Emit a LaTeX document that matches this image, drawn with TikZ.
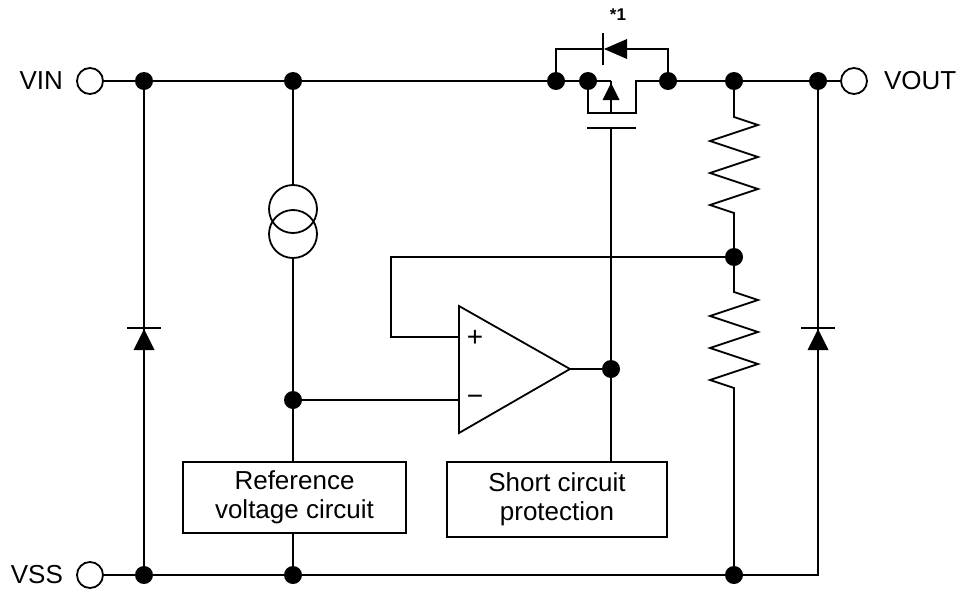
\documentclass[tikz,border=0pt]{standalone}
\usepackage{fontspec}
\setmainfont{Liberation Sans}
\usetikzlibrary{positioning, calc}

\begin{document}
\begin{tikzpicture}[
        x = 1pt, y = -1pt,
        every node/.style={font=\fontsize{26}{29}\selectfont},
        wire/.style={line width=1.8pt},
        junction/.style={circle, fill, inner sep=0pt, minimum size=18pt},
        terminal/.style={circle, draw, line width=1.8pt, fill=white, inner sep=0pt, minimum size=26pt},
        block/.style={rectangle, draw, line width=1.8pt, align=center, inner sep=0pt},
        source/.style={circle, draw, line width=1.8pt, inner sep=0pt, minimum size=48pt},
        pin/.style={inner sep=0pt},
        sign/.style={inner sep=0pt, font=\fontsize{28}{28}\selectfont}
    ]
    \useasboundingbox (0,0) rectangle (963,594);

    % terminals
    \node[terminal] (VIN) at (90,81) {};
    \node[pin, left=13pt of VIN] (VINl) {VIN};
    \node[terminal] (VSS) at (90,575) {};
    \node[pin, left=13pt of VSS] (VSSl) {VSS};
    \node[terminal] (VOUT) at (854,81) {};
    \node[pin, right=16pt of VOUT] (VOUTl) {VOUT};

    % junctions
    \node[junction] (J1) at (144,81) {};
    \node[junction] (J2) at (293,81) {};
    \node[junction] (J3) at (556,81) {};
    \node[junction] (J4) at (588,81) {};
    \node[junction] (J5) at (668,81) {};
    \node[junction] (J6) at (734,81) {};
    \node[junction] (J7) at (818,81) {};
    \node[junction] (J8) at (293,400) {};
    \node[junction] (J9) at (611,369) {};
    \node[junction] (J10) at (734,257) {};
    \node[junction] (J11) at (144,575) {};
    \node[junction] (J12) at (293,575) {};
    \node[junction] (J13) at (734,575) {};
    \coordinate (BR) at (818,575);

    % blocks
    \node[block, minimum width=223pt, minimum height=71pt] (REF) at (294.5,497.5) {Reference\\voltage circuit};
    \node[block, minimum width=220pt, minimum height=75pt] (SCP) at (557,499.5) {Short circuit\\protection};

    % supply rails
    \draw[wire] (VIN) -- (J1) -- (J2) -- (J3) -- (J4);
    \draw[wire] (J5) -- (J6) -- (J7) -- (VOUT);
    \draw[wire] (VSS) -- (J11) -- (J12) -- (J13) -- (BR) -- (J7);
    \draw[wire] (J1) -- (J11);

    % clamp diodes
    \coordinate (DL) at (144,329);
    \fill (DL) -- ++(-10.5,21) -- ++(21,0) -- cycle;
    \draw[wire] ($(DL)+(-17,-1)$) -- ($(DL)+(17,-1)$);
    \coordinate (DR) at (818,329);
    \fill (DR) -- ++(-10.5,21) -- ++(21,0) -- cycle;
    \draw[wire] ($(DR)+(-17,-1)$) -- ($(DR)+(17,-1)$);

    % current source and reference
    \node[source] (CS1) at (293,209) {};
    \node[source] (CS2) at (293,234) {};
    \draw[wire] (J2) -- (CS1);
    \draw[wire] (CS2) -- (J8) -- (J8 |- REF.north);
    \draw[wire] (J12 |- REF.south) -- (J12);

    % pass transistor
    \coordinate (MS) at (611,81);
    \coordinate (MB) at (611,113);
    \coordinate (MBL) at (588,113);
    \coordinate (MBR) at (636,113);
    \coordinate (MD) at (636,81);
    \coordinate (G) at (611,128);
    \draw[wire] (J4) -- (MS);
    \draw[wire] (J4) -- (MBL) -- (MBR) -- (MD) -- (J5);
    \draw[wire] (MB) -- (MS);
    \fill ($(MS)+(0,2)$) -- ++(-8.5,17) -- ++(17,0) -- cycle;
    \draw[wire] ($(G)+(-24,0)$) -- ($(G)+(25,0)$);

    % body diode
    \coordinate (DT) at (604,49);
    \coordinate (DTL) at (556,49);
    \coordinate (DTB) at (627,49);
    \coordinate (DTR) at (668,49);
    \fill (DT) -- ++(23,-10) -- ++(0,20) -- cycle;
    \draw[wire] ($(DT)+(-1,-16)$) -- ($(DT)+(-1,16)$);
    \draw[wire] (J3) -- (DTL) -- (DT);
    \draw[wire] (DTB) -- (DTR) -- (J5);
    \node[pin, font=\bfseries\fontsize{17}{19}\selectfont] (N1) at (618,15) {*1};

    % error amplifier
    \coordinate (OAp) at (459,337);
    \coordinate (OAm) at (459,400);
    \coordinate (OAo) at (570,369);
    \draw[wire, line join=miter] (459,306) -- (459,433) -- (OAo) -- cycle;
    \node[sign] (PL) at (475,338) {+};
    \node[sign] (MI) at (475,400) {−};
    \draw[wire] (J8) -- (OAm);
    \draw[wire] (OAo) -- (J9);
    \draw[wire] (G) -- (J9) -- (J9 |- SCP.north);

    % feedback divider
    \coordinate (R1) at (734,117);
    \coordinate (R2) at (734,292);
    \draw[wire] (J6) -- (R1) -- ++(24,8) -- ++(-48,16) -- ++(48,16) -- ++(-48,16)
        -- ++(48,16) -- ++(-48,16) -- ++(24,8) -- (J10);
    \draw[wire] (J10) -- (R2) -- ++(24,8) -- ++(-48,16) -- ++(48,16) -- ++(-48,16)
        -- ++(48,16) -- ++(-48,16) -- ++(24,8) -- (J13);
    \coordinate (FB1) at (391,337);
    \coordinate (FB2) at (391,257);
    \draw[wire] (OAp) -- (FB1) -- (FB2) -- (J10);
\end{tikzpicture}
\end{document}
